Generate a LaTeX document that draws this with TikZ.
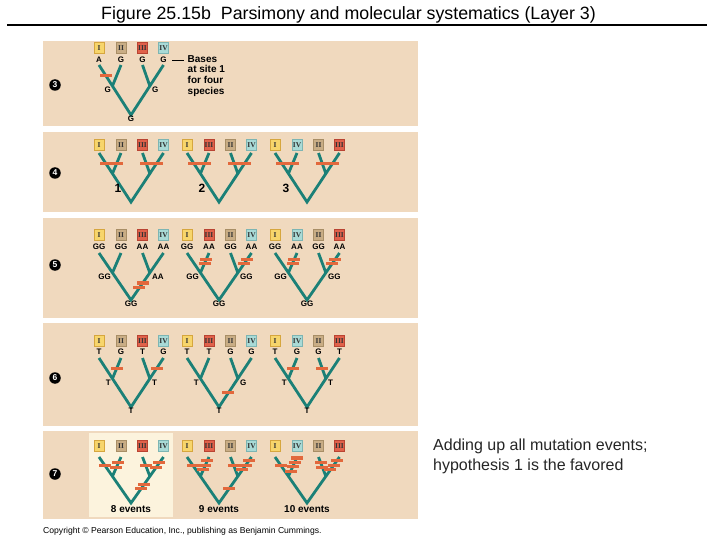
\documentclass[tikz,border=0pt]{standalone}
\usepackage{fontspec}
\setmainfont{Liberation Sans}
\newfontfamily\numfont{Liberation Serif}
\usepackage{tikz}
\usetikzlibrary{calc,positioning}
\definecolor{paneltan}{HTML}{F0D9BE}
\definecolor{panellight}{HTML}{FCF3DD}
\definecolor{treeteal}{HTML}{1B8077}
\definecolor{mutorange}{HTML}{E2683C}
\definecolor{spIfill}{HTML}{F7D56B}\definecolor{spIline}{HTML}{D6A63E}
\definecolor{spIIfill}{HTML}{C9AD85}\definecolor{spIIline}{HTML}{A88E66}
\definecolor{spIIIfill}{HTML}{E0614A}\definecolor{spIIIline}{HTML}{B94332}
\definecolor{spIVfill}{HTML}{A9DAD6}\definecolor{spIVline}{HTML}{7DB5B3}
\tikzset{
  branch/.style={treeteal,line width=2.8pt},
  mutbar/.style={mutorange},
  taxon/.style={draw,line width=0.7pt,minimum width=10pt,minimum height=11pt,inner sep=0pt,
    text=black!80,font=\numfont\bfseries\fontsize{7.5}{7.5}\selectfont},
  txI/.style={fill=spIfill,draw=spIline},
  txII/.style={fill=spIIfill,draw=spIIline},
  txIII/.style={fill=spIIIfill,draw=spIIIline},
  txIV/.style={fill=spIVfill,draw=spIVline},
  lab/.style={inner sep=0.5pt,font=\bfseries\fontsize{8}{9}\selectfont},
  hyplab/.style={inner sep=0.5pt,font=\bfseries\fontsize{12}{12}\selectfont},
  evlab/.style={inner sep=0.5pt,font=\bfseries\fontsize{10}{11}\selectfont},
  stepmark/.style={circle,fill=black,text=white,inner sep=0pt,minimum size=11.5pt,
    font=\bfseries\fontsize{8.5}{8.5}\selectfont},
}
% tree: name, x of first tip, y of tips, depth
\newcommand{\phylo}[4]{%
  \coordinate (#1-a) at (#2,#3);
  \coordinate (#1-b) at (#2+22,#3);
  \coordinate (#1-c) at (#2+43.5,#3);
  \coordinate (#1-d) at (#2+64.5,#3);
  \coordinate (#1-o) at (#2+32,#3+#4);
  \coordinate (#1-l) at ($(#1-a)!0.42!(#1-o)$);
  \coordinate (#1-r) at ($(#1-d)!0.42!(#1-o)$);
  \draw[branch] (#1-a) -- (#1-o) -- (#1-d) (#1-b) -- (#1-l) (#1-c) -- (#1-r);
}
\newcommand{\taxa}[4]{%
  \foreach \s [count=\i from 0] in #4 {%
    \pgfmathsetmacro{\xx}{#2+{0,22,43.5,64.5}[\i]}%
    \node[taxon,tx\s] (#1-\s) at (\xx,#3) {\s};}}
\newcommand{\tips}[4]{%
  \foreach \s [count=\i from 0] in #4 {%
    \pgfmathsetmacro{\xx}{#2+{0,22,43.5,64.5}[\i]}%
    \node[lab] (#1-t\i) at (\xx,#3) {\s};}}
\newcommand{\states}[4]{%
  \node[lab,anchor=east,xshift=-1pt,yshift=-4pt] (#1-L) at (#1-l) {#2};
  \node[lab,anchor=west,xshift=1.5pt,yshift=-4pt] (#1-R) at (#1-r) {#3};
  \node[lab,anchor=north,yshift=-0.5pt] (#1-O) at (#1-o) {#4};}
\newcommand{\mut}[3]{%
  \foreach \t in {#3} {\fill[mutbar] ($(#1)!\t!(#2)$) +(-6,-1.6) rectangle +(6,1.6);}}

\begin{document}
\begin{tikzpicture}[x=1pt,y=-1pt]
  \useasboundingbox (0,0) rectangle (720,540);
  \fill[white] (0,0) rectangle (720,540);
  \node[font=\fontsize{17.8}{19}\selectfont] (title) at (348.5,14.5)
    {Figure 25.15b\ \ Parsimony and molecular systematics (Layer 3)};
  \draw[line width=1.4pt] (7,25) -- (707,25);
  \foreach \top/\bot in {41/126,132/212,218/318,323/426,431/519}
    \fill[paneltan] (43,\top) rectangle (418,\bot);
  \fill[panellight] (89,433) rectangle (173,517);
  \foreach \n/\y in {3/85,4/173,5/265,6/378,7/474}
    \node[stepmark] (step\n) at (55,\y) {\n};

  % 3: bases at site 1
  \taxa{p3}{99}{48}{{I,II,III,IV}}
  \tips{p3}{99}{60}{{A,G,G,G}}
  \phylo{p3}{99}{65}{50}
  \mut{p3-a}{p3-l}{0.5}
  \states{p3}{G}{G}{G}
  \node[lab,font=\bfseries\fontsize{10}{10.8}\selectfont,align=left,anchor=north west]
    (bases) at (187,54.5) {Bases\\at site 1\\for four\\species};
  \draw[line width=0.6pt] ([xshift=5pt]p3-t3.east) -- ($(p3-t3.east -| bases.west)+(-3,0)$);

  % 4: three hypotheses
  \foreach \k/\xo/\ord in {a/99/{I,II,III,IV},b/187/{I,III,II,IV},c/275/{I,IV,II,III}}{
    \taxa{p4\k}{\xo}{145}{\ord}
    \phylo{p4\k}{\xo}{153}{49}
    \foreach \u/\v in {a/l,b/l,c/r,d/r} {\mut{p4\k-\u}{p4\k-\v}{0.5}}
  }
  \foreach \k/\n/\dx in {a/1/-13,b/2/-17,c/3/-21}
    \node[hyplab] (hyp\n) at ($(p4\k-o)+(\dx,-14)$) {\n};

  % 5
  \foreach \k/\xo/\ord/\tp/\sl/\sr in {a/99/{I,II,III,IV}/{GG,GG,AA,AA}/GG/AA,
      b/187/{I,III,II,IV}/{GG,AA,GG,AA}/GG/GG,c/275/{I,IV,II,III}/{GG,AA,GG,AA}/GG/GG}{
    \taxa{p5\k}{\xo}{235}{\ord}
    \tips{p5\k}{\xo}{246.5}{\tp}
    \phylo{p5\k}{\xo}{253}{47}
    \states{p5\k}{\sl}{\sr}{GG}
  }
  \mut{p5a-r}{p5a-o}{0.38,0.55}
  \foreach \k in {b,c} {\mut{p5\k-b}{p5\k-l}{0.32,0.52}\mut{p5\k-d}{p5\k-r}{0.32,0.52}}

  % 6
  \foreach \k/\xo/\ord/\tp/\sl/\sr in {a/99/{I,II,III,IV}/{T,G,T,G}/T/T,
      b/187/{I,III,II,IV}/{T,T,G,G}/T/G,c/275/{I,IV,II,III}/{T,G,G,T}/T/T}{
    \taxa{p6\k}{\xo}{341}{\ord}
    \tips{p6\k}{\xo}{352}{\tp}
    \phylo{p6\k}{\xo}{358}{49}
    \states{p6\k}{\sl}{\sr}{T}
  }
  \mut{p6a-b}{p6a-l}{0.5}\mut{p6a-d}{p6a-r}{0.5}
  \mut{p6b-r}{p6b-o}{0.5}
  \mut{p6c-b}{p6c-l}{0.5}\mut{p6c-c}{p6c-r}{0.5}

  % 7: adding up
  \foreach \k/\xo/\ord/\ev in {a/99/{I,II,III,IV}/8 events,
      b/187/{I,III,II,IV}/9 events,c/275/{I,IV,II,III}/10 events}{
    \taxa{p7\k}{\xo}{446}{\ord}
    \phylo{p7\k}{\xo}{457}{46}
    \node[evlab,anchor=north] (ev\k) at ([yshift=-2pt]p7\k-o) {\ev};
  }
  \mut{p7a-a}{p7a-l}{0.45}\mut{p7a-b}{p7a-l}{0.3,0.53}
  \mut{p7a-c}{p7a-r}{0.45}\mut{p7a-d}{p7a-r}{0.3,0.53}
  \mut{p7a-r}{p7a-o}{0.3,0.47}
  \mut{p7b-a}{p7b-l}{0.45}\mut{p7b-b}{p7b-l}{0.2,0.43,0.66}
  \mut{p7b-c}{p7b-r}{0.45}\mut{p7b-d}{p7b-r}{0.2,0.43,0.66}
  \mut{p7b-r}{p7b-o}{0.47}
  \mut{p7c-a}{p7c-l}{0.45}\mut{p7c-b}{p7c-l}{0.05,0.28,0.51,0.74}
  \mut{p7c-c}{p7c-r}{0.3,0.53}\mut{p7c-d}{p7c-r}{0.2,0.43,0.66}

  \node[anchor=base west,inner sep=0pt,text=black!85,font=\fontsize{16}{18}\selectfont]
    (note1) at (433,450) {Adding up all mutation events;};
  \node[anchor=base west,inner sep=0pt,text=black!85,font=\fontsize{16}{18}\selectfont]
    (note2) at (433,470) {hypothesis 1 is the favored};
  \node[anchor=base west,inner sep=0pt,font=\fontsize{8.6}{9}\selectfont]
    (copy) at (43,533) {Copyright © Pearson Education, Inc., publishing as Benjamin Cummings.};
\end{tikzpicture}
\end{document}
